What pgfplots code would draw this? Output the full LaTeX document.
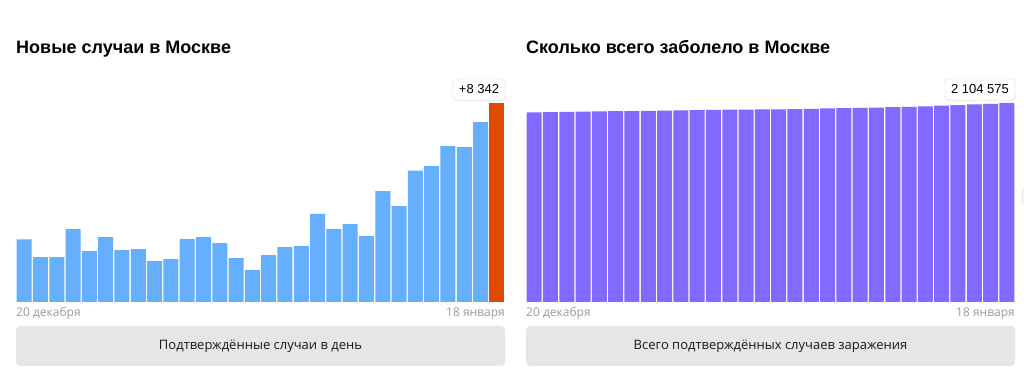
\documentclass[border=0pt]{standalone}
\usepackage{pgfplots}
\pgfplotsset{compat=1.18}
\usepackage{fontspec}
\setmainfont{Open Sans}
\newfontfamily\arialf{Liberation Sans}
\definecolor{barblue}{RGB}{102,175,255}
\definecolor{barorange}{RGB}{224,74,0}
\definecolor{barpurple}{RGB}{129,106,255}
\definecolor{datec}{RGB}{155,155,160}
\definecolor{btn}{RGB}{230,230,230}
\begin{document}
\begin{tikzpicture}
\path[use as bounding box, fill=white] (0,0) rectangle (1024pt,374pt);
\begin{scope}
\clip (0,0) rectangle (1024pt,374pt);
\fill[gray!6] (1042pt,177pt) circle (21pt);
\draw[gray!12, line width=1pt] (1042pt,177pt) circle (20pt);
\end{scope}
% titles
\node[anchor=base west, inner sep=0pt, font=\arialf\bfseries\fontsize{18}{20}\selectfont] at (16pt,320.5pt) {Новые случаи в Москве};
\node[anchor=base west, inner sep=0pt, font=\arialf\bfseries\fontsize{18}{20}\selectfont] at (526pt,320.5pt) {Сколько всего заболело в Москве};
% left axis
\begin{axis}[
  at={(16pt,72pt)}, anchor=south west,
  scale only axis, width=489pt, height=199pt,
  hide axis, clip=false,
  xmin=0.5, xmax=30.5, ymin=0, ymax=8342,
  ybar, bar width=15pt, bar shift=0pt,
]
\addplot[fill=barblue, draw=none] coordinates {
(1,2627) (2,1886) (3,1886) (4,3059) (5,2137) (6,2724) (7,2179) (8,2221) (9,1718) (10,1802)
(11,2640) (12,2724) (13,2473) (14,1844) (15,1341) (16,1970) (17,2305) (18,2347) (19,3689) (20,3059)
(21,3269) (22,2766) (23,4652) (24,4023) (25,5503) (26,5700) (27,6538) (28,6496) (29,7544)
};
\addplot[fill=barorange, draw=none] coordinates {(30,8342)};
\end{axis}
% right axis
\begin{axis}[
  at={(526pt,72pt)}, anchor=south west,
  scale only axis, width=489pt, height=199pt,
  hide axis, clip=false,
  xmin=0.5, xmax=30.5, ymin=0, ymax=2104575,
  ybar, bar width=15pt, bar shift=0pt,
]
\addplot[fill=barpurple, draw=none] coordinates {
(1,2005738) (2,2007624) (3,2009510) (4,2012569) (5,2014706) (6,2017430) (7,2019609) (8,2021830) (9,2023548) (10,2025350)
(11,2027990) (12,2030714) (13,2033187) (14,2035031) (15,2036372) (16,2038342) (17,2040647) (18,2042994) (19,2046683) (20,2049742)
(21,2053011) (22,2055777) (23,2060429) (24,2064452) (25,2069955) (26,2075655) (27,2082193) (28,2088689) (29,2096233) (30,2104575)
};
\end{axis}
% value boxes
\fill[black!6, rounded corners=4pt] (453pt,273pt) rectangle (505.5pt,294.5pt);
\filldraw[fill=white, draw=black!12, rounded corners=4pt] (453pt,274pt) rectangle (505pt,295pt);
\node[font=\arialf\fontsize{13}{15}\selectfont, inner sep=0pt] at (479pt,284.5pt) {+8 342};
\fill[black!6, rounded corners=4pt] (945pt,273pt) rectangle (1015.5pt,294.5pt);
\filldraw[fill=white, draw=black!12, rounded corners=4pt] (945pt,274pt) rectangle (1015pt,295pt);
\node[font=\arialf\fontsize{13}{15}\selectfont, inner sep=0pt] at (980pt,284.5pt) {2 104 575};
% date labels
\node[anchor=base west, inner sep=0pt, text=datec, font=\fontsize{12}{14}\selectfont] at (16pt,57.5pt) {20 декабря};
\node[anchor=base east, inner sep=0pt, text=datec, font=\fontsize{12}{14}\selectfont] at (505pt,57.5pt) {18 января};
\node[anchor=base west, inner sep=0pt, text=datec, font=\fontsize{12}{14}\selectfont] at (526pt,57.5pt) {20 декабря};
\node[anchor=base east, inner sep=0pt, text=datec, font=\fontsize{12}{14}\selectfont] at (1015pt,57.5pt) {18 января};
% buttons
\fill[btn, rounded corners=4pt] (16pt,8pt) rectangle (505pt,48pt);
\fill[btn, rounded corners=4pt] (526pt,8pt) rectangle (1015pt,48pt);
\node[anchor=base, inner sep=0pt, text=black!90, font=\fontsize{13}{15}\selectfont] at (260.5pt,24pt) {Подтверждённые случаи в день};
\node[anchor=base, inner sep=0pt, text=black!90, font=\fontsize{13}{15}\selectfont] at (770.5pt,24pt) {Всего подтверждённых случаев заражения};
\end{tikzpicture}
\end{document}
